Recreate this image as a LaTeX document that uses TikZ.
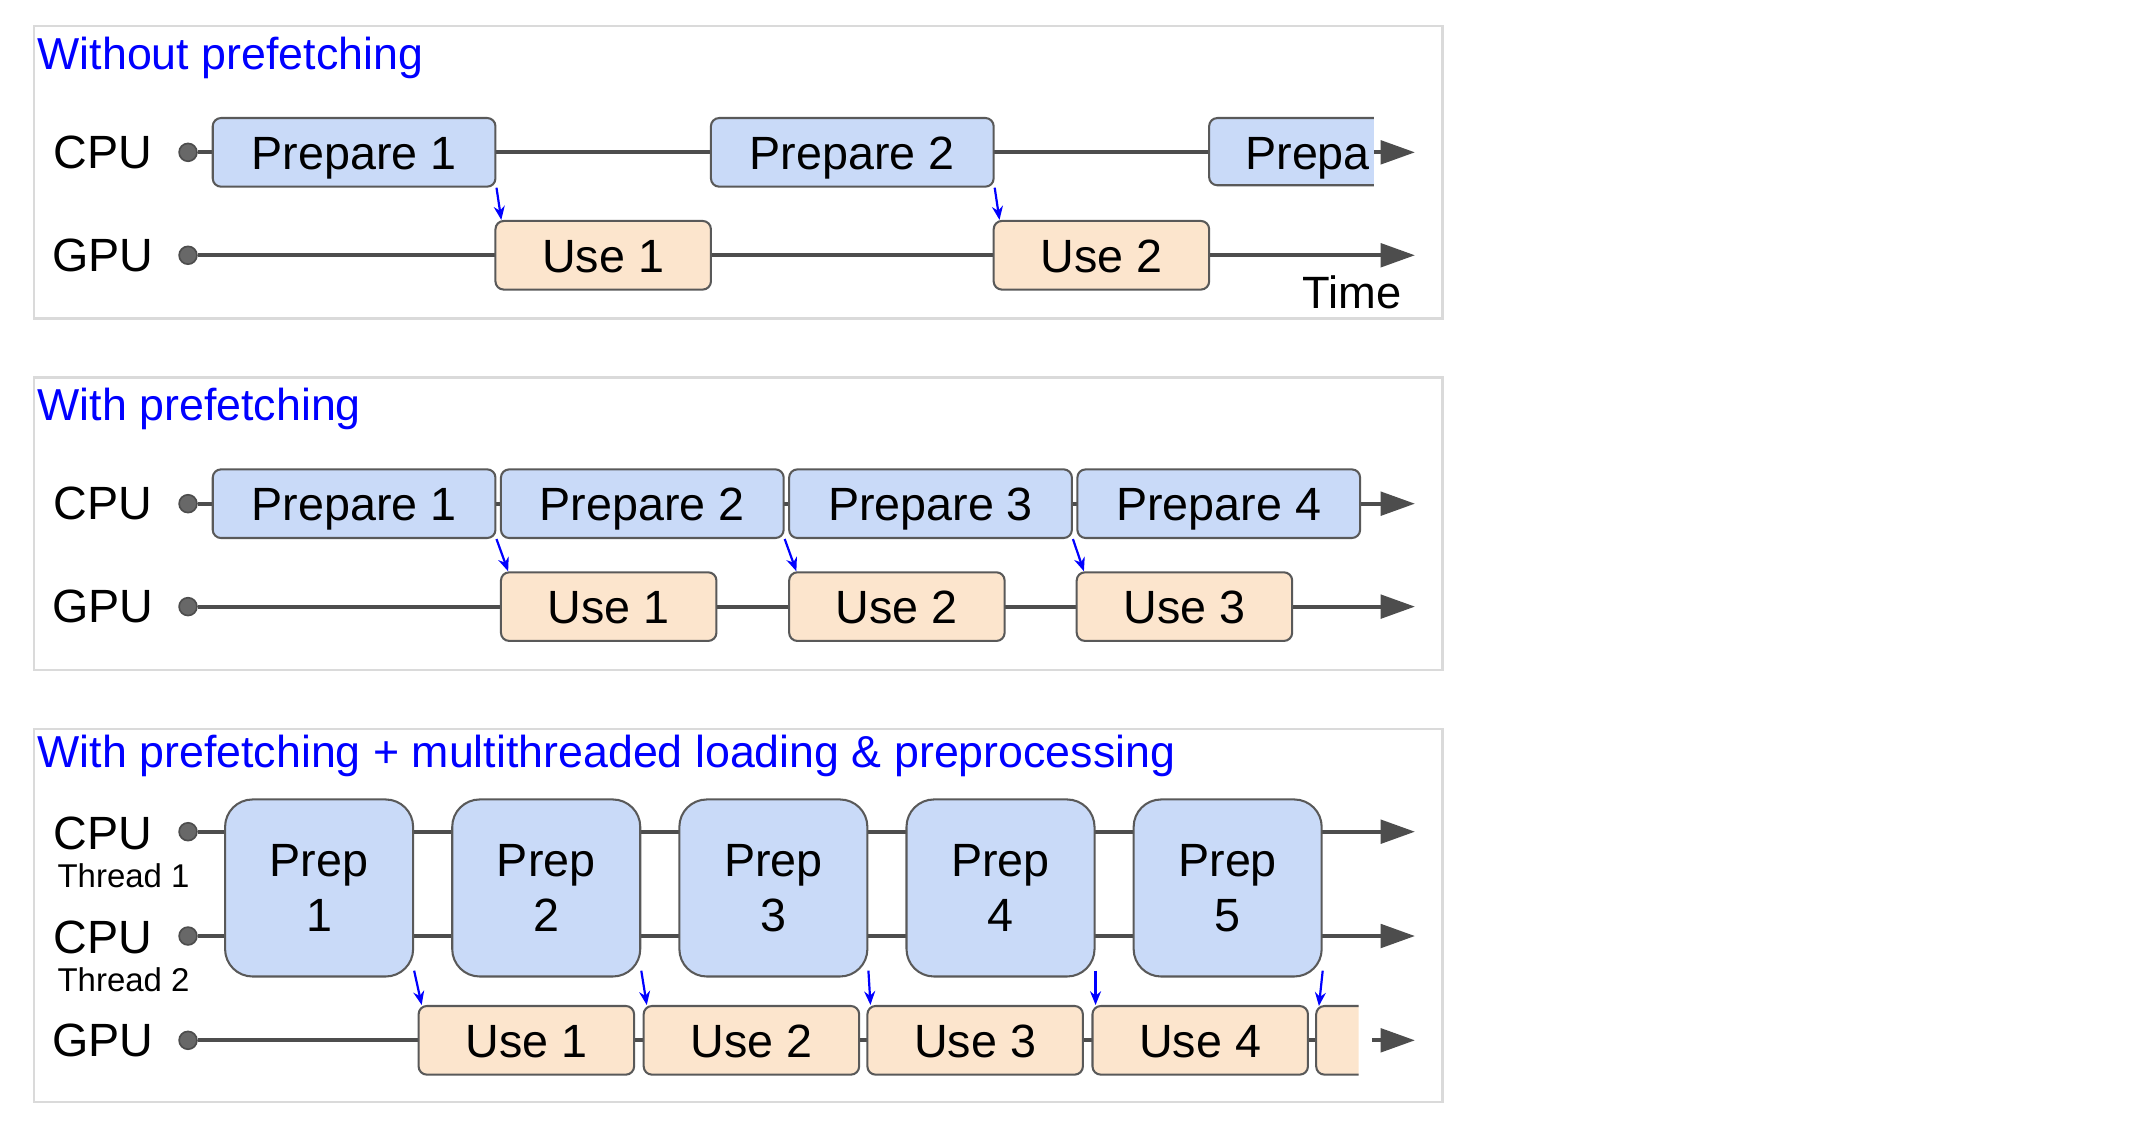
\documentclass[tikz,border=0pt]{standalone}
\usepackage{fontspec}
\setmainfont{Liberation Sans}
\usetikzlibrary{arrows.meta}
\definecolor{prepfill}{HTML}{C9DAF8}
\definecolor{usefill}{HTML}{FCE5CD}
\definecolor{edgec}{HTML}{595959}
\definecolor{tlinec}{HTML}{4D4D4D}
\definecolor{framec}{HTML}{DADADA}
\definecolor{ttlc}{HTML}{0000FF}
\tikzset{
  boxbase/.style={draw=edgec, line width=0.75pt, inner sep=0pt, font=\fontsize{17}{20}\selectfont},
  prepbox/.style={boxbase, fill=prepfill, rounded corners=3pt, minimum width=103pt, minimum height=25pt, text height=12.3pt, text depth=0pt},
  usebox/.style={boxbase, fill=usefill, rounded corners=3pt, minimum width=78.5pt, minimum height=25pt, text height=12.3pt, text depth=0pt},
  bigprep/.style={boxbase, fill=prepfill, rounded corners=10pt, minimum width=68.5pt, minimum height=64.5pt, align=center},
  tl/.style={draw=tlinec, line width=1.5pt},
  tlarrow/.style={tl, -{Triangle[length=12.5pt,width=8.5pt]}},
  dotn/.style={circle, fill=tlinec!85, draw=tlinec, line width=0.6pt, inner sep=0pt, minimum size=6.5pt},
  dep/.style={draw=ttlc, line width=0.8pt, -{Stealth[length=5pt,width=4pt]}},
  lbl/.style={font=\fontsize{17}{20}\selectfont, inner sep=0pt},
  smalllbl/.style={font=\fontsize{12}{14}\selectfont, inner sep=0pt},
  ttlnode/.style={text=ttlc, font=\fontsize{16.3}{19}\selectfont, anchor=west, inner sep=0pt},
  panel/.style={draw=framec, line width=0.8pt}
}
\begin{document}
\begin{tikzpicture}[x=0.5pt,y=-0.5pt]
\useasboundingbox (0,0) rectangle (1568,818);

% ---------------- Panel 1 ----------------
\draw[panel] (25,19) rectangle (1051,232);
\node[ttlnode] (t1) at (27,42) {Without prefetching};
\node[lbl] (cpu1) at (75,111) {CPU};
\node[lbl] (gpu1) at (75,186) {GPU};
\node[dotn] (d1c) at (137,111) {};
\node[dotn] (d1g) at (137,186) {};
\coordinate (e1c) at (1031,111);
\coordinate (e1g) at (1031,186);
\draw[tlarrow] (d1c) -- (e1c);
\draw[tlarrow] (d1g) -- (e1g);
\node[prepbox] (p11) at (258,111) {Prepare 1};
\node[prepbox] (p12) at (621,111) {Prepare 2};
\begin{scope}
\clip (870,80) rectangle (1001,140);
\path[draw=edgec, line width=0.75pt, fill=prepfill, rounded corners=3pt] (881,86) rectangle (1100,135);
\end{scope}
\node[lbl, anchor=west, text height=12.3pt, text depth=0pt] (p13) at (907,111) {Prepa};
\node[usebox] (u11) at (439.5,186) {Use 1};
\node[usebox] (u12) at (802.5,186) {Use 2};
\node[lbl, font=\fontsize{16.5}{19}\selectfont] (time) at (985,213) {Time};
\draw[dep] (p11.south east) -- ([xshift=2.5pt]u11.north west);
\draw[dep] (p12.south east) -- ([xshift=2.5pt]u12.north west);

% ---------------- Panel 2 ----------------
\draw[panel] (25,275) rectangle (1051,488);
\node[ttlnode] (t2) at (27,298) {With prefetching};
\node[lbl] (cpu2) at (75,367) {CPU};
\node[lbl] (gpu2) at (75,442) {GPU};
\node[dotn] (d2c) at (137,367) {};
\node[dotn] (d2g) at (137,442) {};
\coordinate (e2c) at (1031,367);
\coordinate (e2g) at (1031,442);
\draw[tlarrow] (d2c) -- (e2c);
\draw[tlarrow] (d2g) -- (e2g);
\node[prepbox] (p21) at (258,367) {Prepare 1};
\node[prepbox] (p22) at (468,367) {Prepare 2};
\node[prepbox] (p23) at (678,367) {Prepare 3};
\node[prepbox] (p24) at (888,367) {Prepare 4};
\node[usebox] (u21) at (443.5,442) {Use 1};
\node[usebox] (u22) at (653.5,442) {Use 2};
\node[usebox] (u23) at (863,442) {Use 3};
\draw[dep] (p21.south east) -- ([xshift=3pt]u21.north west);
\draw[dep] (p22.south east) -- ([xshift=3pt]u22.north west);
\draw[dep] (p23.south east) -- ([xshift=3pt]u23.north west);

% ---------------- Panel 3 ----------------
\draw[panel] (25,531) rectangle (1051,803);
\node[ttlnode] (t3) at (27,551) {With prefetching + multithreaded loading \& preprocessing};
\node[lbl] (cpu3a) at (75,607) {CPU};
\node[smalllbl] (th1) at (90,638) {Thread 1};
\node[lbl] (cpu3b) at (75,683) {CPU};
\node[smalllbl] (th2) at (90,714) {Thread 2};
\node[lbl] (gpu3) at (75,758) {GPU};
\node[dotn] (d3a) at (137,606) {};
\node[dotn] (d3b) at (137,682) {};
\node[dotn] (d3g) at (137,758) {};
\coordinate (e3a) at (1031,606);
\coordinate (e3b) at (1031,682);
\coordinate (c3g) at (975,758);
\coordinate (s3g) at (1000,758);
\coordinate (e3g) at (1031,758);
\draw[tlarrow] (d3a) -- (e3a);
\draw[tlarrow] (d3b) -- (e3b);
\draw[tl] (d3g) -- (c3g);
\draw[tlarrow] (s3g) -- (e3g);
\node[bigprep] (q1) at (232.5,647) {Prep\\1};
\node[bigprep] (q2) at (398,647) {Prep\\2};
\node[bigprep] (q3) at (563.5,647) {Prep\\3};
\node[bigprep] (q4) at (729,647) {Prep\\4};
\node[bigprep] (q5) at (894.5,647) {Prep\\5};
\node[usebox] (v1) at (383.5,758) {Use 1};
\node[usebox] (v2) at (547.5,758) {Use 2};
\node[usebox] (v3) at (710.5,758) {Use 3};
\node[usebox] (v4) at (874.5,758) {Use 4};
\begin{scope}
\clip (950,725) rectangle (990,790);
\path[draw=edgec, line width=0.75pt, fill=usefill, rounded corners=3pt] (959,733) rectangle (1120,783);
\end{scope}
\coordinate (v5) at (961,733);
\draw[dep] ([yshift=2.5pt]q1.south east) -- ([xshift=1.5pt]v1.north west);
\draw[dep] ([yshift=2.5pt]q2.south east) -- ([xshift=1.5pt]v2.north west);
\draw[dep] ([yshift=2.5pt]q3.south east) -- ([xshift=1.5pt]v3.north west);
\draw[dep] ([yshift=2.5pt]q4.south east) -- ([xshift=1.5pt]v4.north west);
\draw[dep] ([yshift=2.5pt]q5.south east) -- (v5);
\end{tikzpicture}
\end{document}
